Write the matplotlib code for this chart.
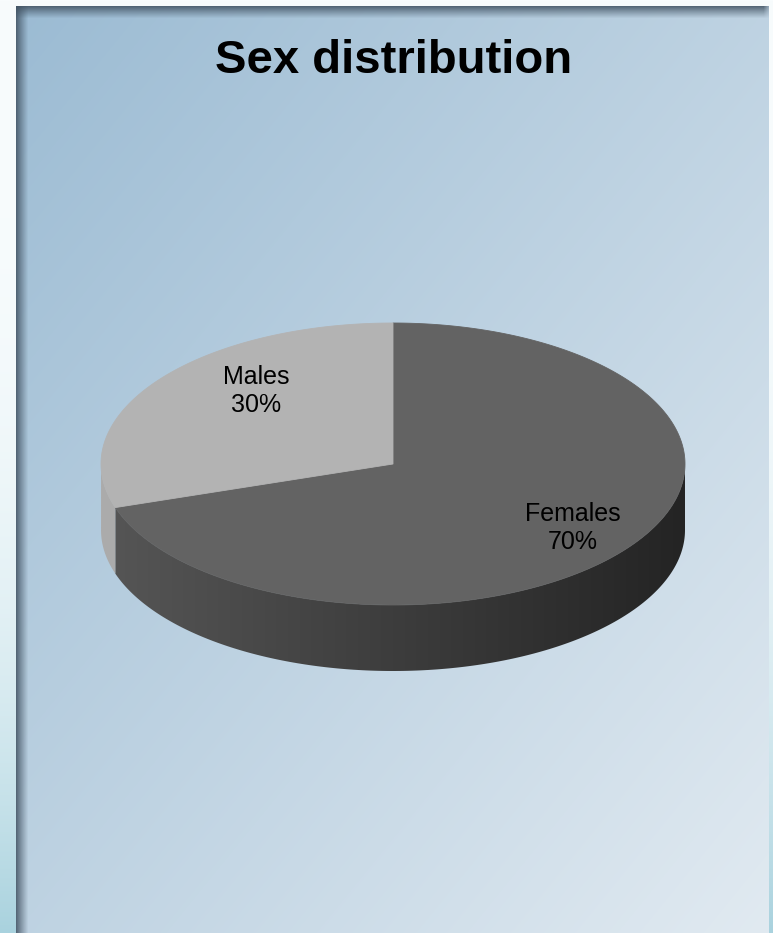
import numpy as np
import matplotlib
matplotlib.use("Agg")
import matplotlib.pyplot as plt
from matplotlib.patches import Polygon
from matplotlib.colors import to_rgb

# data
labels = ["Females", "Males"]
shares = [70, 30]
top_colors = ["#636363", "#b3b3b3"]
side_left = ["#565656", "#acacac"]
side_right = ["#242424", "#9c9c9c"]
label_r = [(0.76, 0.77), (0.58, 0.88)]
title = "Sex distribution"

plt.rcParams["font.family"] = ["Liberation Sans", "DejaVu Sans"]

W, H = 773, 933
fig = plt.figure(figsize=(W / 100, H / 100), dpi=100)
ax = fig.add_axes([0, 0, 1, 1])
ax.set_xlim(0, W)
ax.set_ylim(H, 0)
ax.axis("off")


def lerp(c0, c1, t):
    c0 = np.array(to_rgb(c0))
    c1 = np.array(to_rgb(c1))
    return c0 + (c1 - c0) * t[..., None]


# outer background (slide behind the chart)
yy = np.linspace(0, 1, H)[:, None] * np.ones((1, W))
outer = lerp("#f8fcfd", "#a9d2de", yy ** 3)
ax.imshow(outer, extent=(0, W, H, 0), aspect="auto", zorder=0)

# chart panel with diagonal gradient
px0, px1, py0, py1 = 16, 769, 6, H
u = np.linspace(0, 1, px1 - px0)[None, :]
v = np.linspace(0, 1, py1 - py0)[:, None]
panel = lerp("#9bbbd3", "#e1eaf1", (u + v) / 2)
ax.imshow(panel, extent=(px0, px1, py1, py0), aspect="auto", zorder=1)

# inner shadow on top and left edges
sh = np.array(to_rgb("#415262"))
band = 13
fade = np.linspace(0.85, 0, band) ** 1.1
alpha_top = fade[:, None] * np.ones((1, px1 - px0))
alpha_top[:, -6:] *= np.linspace(1, 0.4, 6)[None, :]
img = np.zeros((band, px1 - px0, 4))
img[..., :3] = sh
img[..., 3] = alpha_top
ax.imshow(img, extent=(px0, px1, py0 + band, py0), aspect="auto", zorder=2,
          interpolation="bilinear")
alpha_left = fade[None, :] * np.ones((py1 - py0, 1))
alpha_left[:band, :] = np.minimum(alpha_left[:band, :], 1)
img = np.zeros((py1 - py0, band, 4))
img[..., :3] = sh
img[..., 3] = alpha_left
ax.imshow(img, extent=(px0, px0 + band, py1, py0), aspect="auto", zorder=2,
          interpolation="bilinear")

# 3D pie
cx, cy = 393, 464
a, b = 292, 141
depth = 66


def pt(th, dy=0.0, r=1.0):
    th = np.radians(th)
    return np.column_stack([cx + r * a * np.cos(th), cy - r * b * np.sin(th) + dy])


total = sum(shares)
bounds = []
start = 90.0
for s in shares:
    end = start - s / total * 360.0
    bounds.append((end, start))
    start = end

# side walls (front half only)
for i, (lo, hi) in enumerate(bounds):
    lo_n = lo % 360
    hi_n = lo_n + (hi - lo)
    for f0, f1 in [(180, 360), (540, 720)]:
        s0, s1 = max(lo_n, f0), min(hi_n, f1)
        if s1 <= s0:
            continue
        th = np.linspace(s0, s1, 200)
        poly = np.vstack([pt(th), pt(th[::-1], depth)])
        patch = Polygon(poly, closed=True, facecolor="none", edgecolor="none")
        ax.add_patch(patch)
        grad = lerp(side_left[i], side_right[i], np.linspace(0, 1, 400)[None, :] * np.ones((2, 1)))
        im = ax.imshow(grad, extent=(cx - a, cx + a, cy + depth + b, cy - b),
                       aspect="auto", zorder=3, interpolation="bilinear")
        im.set_clip_path(patch)

# top faces
for i, (lo, hi) in enumerate(bounds):
    th = np.linspace(lo, hi, 300)
    poly = np.vstack([[cx, cy], pt(th)])
    ax.add_patch(Polygon(poly, closed=True, facecolor=top_colors[i],
                         edgecolor=top_colors[i], linewidth=0.6, zorder=4))

# labels
for i, (lo, hi) in enumerate(bounds):
    mid = np.radians((lo + hi) / 2)
    rx, ry = label_r[i]
    x = cx + rx * a * np.cos(mid)
    y = cy - ry * b * np.sin(mid)
    ax.text(x, y, f"{labels[i]}\n{shares[i]}%", ha="center", va="center",
            fontsize=18, color="black", linespacing=1.2, zorder=5)

ax.text(394, 73, title, ha="center", va="baseline", fontsize=34,
        fontweight="bold", color="black", zorder=5)

fig.savefig("out.png", dpi=100)
